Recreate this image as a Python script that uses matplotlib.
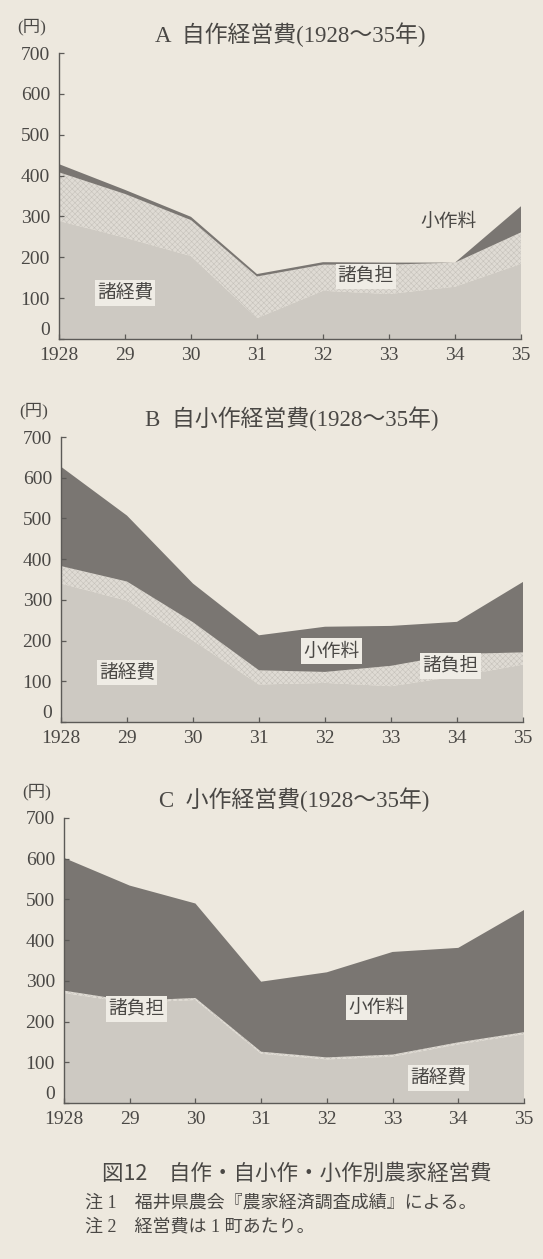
import matplotlib
matplotlib.use("Agg")
import matplotlib.pyplot as plt
import numpy as np

plt.rcParams["font.family"] = ["Liberation Serif", "Noto Sans CJK JP"]
plt.rcParams["hatch.linewidth"] = 0.4

years = [1928, 1929, 1930, 1931, 1932, 1933, 1934, 1935]
year_labels = ["1928", "29", "30", "31", "32", "33", "34", "35"]

# A 自作
a_keihi = [289, 248, 203, 51, 118, 110, 128, 184]
a_futan = [119, 107, 88, 102, 64, 72, 59, 77]
a_kosaku = [20, 10, 8, 6, 6, 5, 0, 64]

# B 自小作
b_keihi = [340, 298, 200, 92, 96, 88, 112, 141]
b_futan = [43, 47, 45, 35, 27, 50, 55, 30]
b_kosaku = [244, 162, 95, 86, 111, 98, 79, 173]

# C 小作
c_keihi = [270, 246, 253, 121, 107, 114, 144, 169]
c_futan = [6, 5, 5, 5, 5, 5, 5, 5]
c_kosaku = [326, 283, 232, 172, 209, 252, 232, 300]

bg = "#ede8de"
col_keihi = "#cdc9c2"
col_futan = "#dfdbd4"
col_hatch = "#c6c2bb"
col_kosaku = "#7a7672"
col_axis = "#5c5a57"
col_text = "#4a4845"

W, H = 543, 1259
fig = plt.figure(figsize=(W / 100, H / 100), dpi=100, facecolor=bg)

panels = [
    # left, right, top, bottom in px, title, series, labels
    (59, 521, 53, 339, "A  自作経営費(1928～35年)", (a_keihi, a_futan, a_kosaku),
     [("諸経費", 1929.0, 113, True), ("諸負担", 1932.65, 153, True), ("小作料", 1933.9, 288, False)]),
    (61, 523, 437, 722, "B  自小作経営費(1928～35年)", (b_keihi, b_futan, b_kosaku),
     [("諸経費", 1929.0, 122, True), ("小作料", 1932.1, 174, True), ("諸負担", 1933.9, 137, True)]),
    (64, 524, 818, 1103, "C  小作経営費(1928～35年)", (c_keihi, c_futan, c_kosaku),
     [("諸負担", 1929.1, 231, True), ("小作料", 1932.75, 234, True), ("諸経費", 1933.7, 62, True)]),
]

for left, right, top, bottom, title, (keihi, futan, kosaku), labels in panels:
    ax = fig.add_axes([left / W, 1 - bottom / H, (right - left) / W, (bottom - top) / H])
    ax.set_facecolor(bg)
    x = np.array(years)
    k = np.array(keihi)
    f = k + np.array(futan)
    t = f + np.array(kosaku)
    ax.fill_between(x, 0, k, facecolor=col_keihi, edgecolor="none", lw=0)
    ax.fill_between(x, k, f, facecolor=col_futan, edgecolor=col_hatch, hatch="xxxxxx", lw=0)
    ax.fill_between(x, f, t, facecolor=col_kosaku, edgecolor="none", lw=0)

    ax.set_xlim(1928, 1935)
    ax.set_ylim(0, 700)
    for s in ["top", "right"]:
        ax.spines[s].set_visible(False)
    for s in ["left", "bottom"]:
        ax.spines[s].set_color(col_axis)
        ax.spines[s].set_linewidth(1.0)
    ax.set_xticks(years, year_labels)
    ax.set_yticks(range(0, 701, 100), [""] + [str(v) for v in range(100, 701, 100)])
    ax.tick_params(direction="in", length=3.5, width=0.9, color=col_axis,
                   labelsize=14, labelcolor=col_text)
    ax.tick_params(axis="y", pad=6.5)
    ax.tick_params(axis="x", pad=5.5)
    ax.annotate("0", xy=(0, 0), xycoords=("axes fraction", "data"),
                xytext=(-6.5, 6), textcoords="offset points",
                ha="right", va="center", fontsize=14, color=col_text)

    for txt, lx, ly, boxed in labels:
        kw = {}
        if boxed:
            kw["bbox"] = dict(boxstyle="square,pad=0.12", facecolor="#efece5", edgecolor="none")
        ax.text(lx, ly, txt, ha="center", va="center", fontsize=13.5,
                color=col_text, family=["Noto Sans CJK JP"], **kw)

    fig.text((left + right) / 2 / W, 1 - (top - 18) / H, title,
             ha="center", va="center", fontsize=16.5, color=col_text)
    fig.text((left - 27) / W, 1 - (top - 26) / H, "(円)",
             ha="center", va="center", fontsize=12.5, color=col_text)

fig.text(297 / W, 1 - 1174 / H, "図12　自作・自小作・小作別農家経営費",
         ha="center", va="center", fontsize=15.5, color=col_text,
         family=["Noto Sans CJK JP"])
fig.text(85 / W, 1 - 1203 / H, "注 1　福井県農会『農家経済調査成績』による。",
         ha="left", va="center", fontsize=13, color=col_text)
fig.text(85 / W, 1 - 1227 / H, "注 2　経営費は 1 町あたり。",
         ha="left", va="center", fontsize=13, color=col_text)

fig.savefig("out.png", dpi=100, facecolor=bg)
